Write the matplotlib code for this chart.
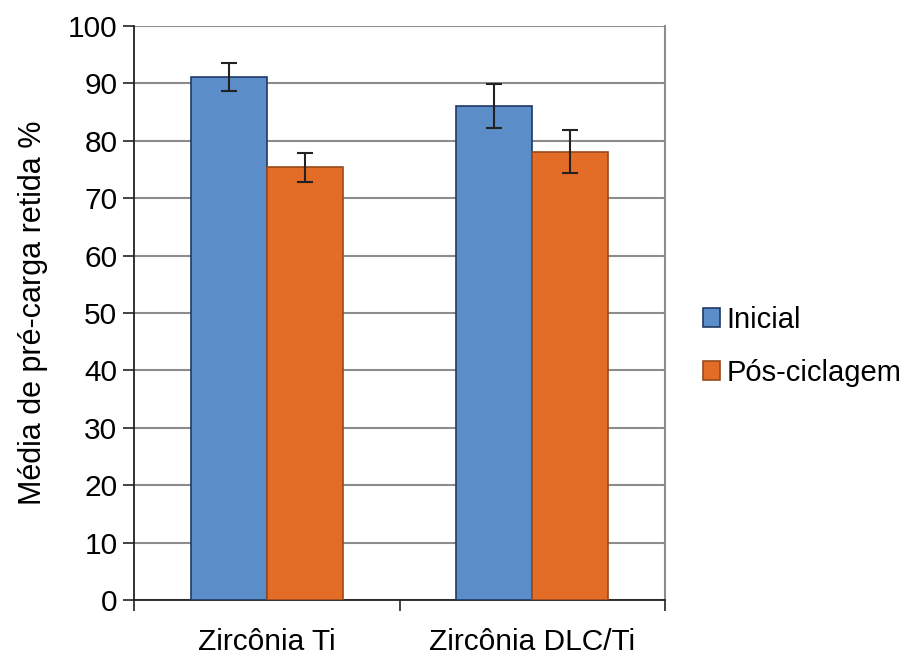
import matplotlib
matplotlib.use("Agg")
import matplotlib.pyplot as plt
import numpy as np
from matplotlib.patches import Patch

plt.rcParams['font.family'] = ['Liberation Sans', 'DejaVu Sans']

categories = ["Zircônia Ti", "Zircônia DLC/Ti"]
series_names = ["Inicial", "Pós-ciclagem"]
inicial = [91.1, 86.1]
inicial_err = [2.5, 3.8]
pos = [75.4, 78.1]
pos_err = [2.5, 3.8]
yticks = list(range(0, 101, 10))

fig = plt.figure(figsize=(9.06, 6.56), dpi=100)
ax = fig.add_axes([0.148, 0.0854, 0.586, 0.875])

x = np.arange(len(categories))
w = 0.286
blue, blue_e = "#5B8DC9", "#1F3A66"
orange, orange_e = "#E36C26", "#9A4A1C"
ax.bar(x - w/2, inicial, w, color=blue, edgecolor=blue_e, linewidth=1.2, zorder=3)
ax.bar(x + w/2, pos, w, color=orange, edgecolor=orange_e, linewidth=1.2, zorder=3)
ax.errorbar(x - w/2, inicial, yerr=inicial_err, fmt='none', ecolor='#222222',
            elinewidth=1.5, capsize=6, capthick=1.5, zorder=4)
ax.errorbar(x + w/2, pos, yerr=pos_err, fmt='none', ecolor='#222222',
            elinewidth=1.5, capsize=6, capthick=1.5, zorder=4)

ax.set_xlim(-0.5, 1.5)
ax.set_ylim(0, 100)
ax.set_yticks(yticks)
ax.yaxis.grid(True, color='#8C8C8C', linewidth=1.5, zorder=0)
ax.set_axisbelow(True)

fs = 21.5
ax.set_xticks([-0.5, 0.5, 1.5])
ax.set_xticklabels([])
ax.set_xticks(x, minor=True)
ax.set_xticklabels(categories, minor=True)
ax.tick_params(axis='x', which='major', direction='out', length=8, width=1.2, color='#222222')
ax.tick_params(axis='x', which='minor', length=0, pad=20, labelsize=fs)
ax.tick_params(axis='y', direction='out', length=8, width=1.2, color='#222222', labelsize=fs, pad=4)

for s in ['left', 'bottom']:
    ax.spines[s].set_color('#222222')
    ax.spines[s].set_linewidth(1.3)
ax.spines['top'].set_visible(False)
ax.spines['right'].set_color('#8C8C8C')
ax.spines['right'].set_linewidth(1.5)

ax.set_ylabel("Média de pré-carga retida %", fontsize=22, labelpad=14)

handles = [Patch(facecolor=blue, edgecolor=blue_e, linewidth=1.2),
           Patch(facecolor=orange, edgecolor=orange_e, linewidth=1.2)]
fig.legend(handles, series_names, loc='center left', bbox_to_anchor=(0.763, 0.472),
           frameon=False, fontsize=21, handlelength=0.6, handleheight=0.6,
           handletextpad=0.2, labelspacing=0.85, borderaxespad=0)

fig.savefig("out.png", dpi=100)
